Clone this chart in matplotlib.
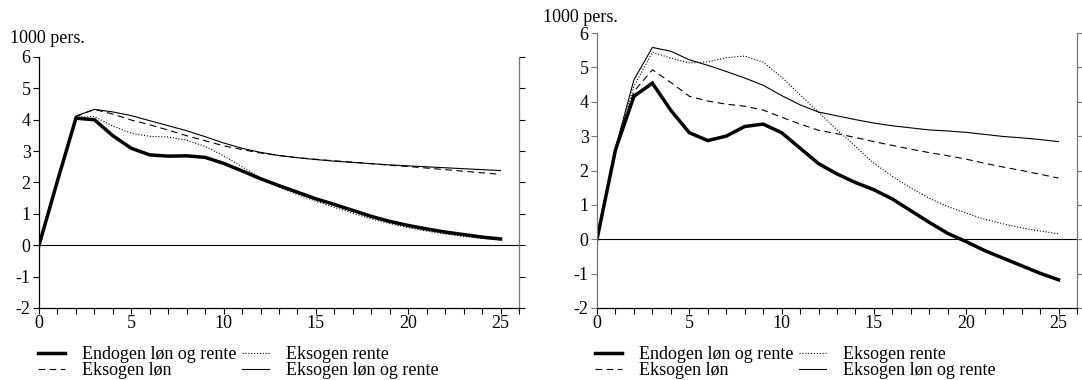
import matplotlib
matplotlib.use("Agg")
import matplotlib.pyplot as plt
from matplotlib.ticker import MultipleLocator

plt.rcParams['font.family'] = ['Liberation Serif', 'DejaVu Serif']
plt.rcParams['font.size'] = 13
plt.rcParams['axes.unicode_minus'] = False

years = list(range(26))

# Venstre panel
left_endogen = [0, 2.05, 4.05, 4.0, 3.49, 3.09, 2.88, 2.84, 2.85, 2.80, 2.61, 2.37, 2.12,
                1.9, 1.69, 1.48, 1.30, 1.11, 0.92, 0.76, 0.63, 0.52, 0.42, 0.34, 0.26, 0.2]
left_rente = [0, 2.05, 4.08, 4.1, 3.8, 3.57, 3.47, 3.45, 3.35, 3.15, 2.85, 2.5, 2.15,
              1.85, 1.62, 1.40, 1.21, 1.02, 0.84, 0.69, 0.56, 0.45, 0.36, 0.28, 0.22, 0.17]
left_loen = [0, 2.05, 4.1, 4.33, 4.18, 3.99, 3.84, 3.67, 3.49, 3.33, 3.17, 3.05, 2.94,
             2.86, 2.79, 2.74, 2.69, 2.65, 2.60, 2.55, 2.51, 2.46, 2.41, 2.36, 2.31, 2.26]
left_begge = [0, 2.05, 4.12, 4.33, 4.25, 4.13, 3.97, 3.81, 3.65, 3.46, 3.26, 3.09, 2.96,
              2.86, 2.79, 2.73, 2.68, 2.64, 2.60, 2.56, 2.53, 2.50, 2.47, 2.44, 2.41, 2.38]

# Høyre panel
right_endogen = [0, 2.6, 4.16, 4.54, 3.75, 3.1, 2.87, 3.0, 3.28, 3.35, 3.1, 2.65, 2.2,
                 1.9, 1.65, 1.44, 1.17, 0.83, 0.49, 0.17, -0.07, -0.33, -0.55, -0.77, -0.99, -1.18]
right_rente = [0, 2.65, 4.45, 5.44, 5.27, 5.13, 5.16, 5.28, 5.33, 5.15, 4.72, 4.2, 3.7,
               3.18, 2.7, 2.21, 1.83, 1.49, 1.19, 0.95, 0.76, 0.58, 0.45, 0.33, 0.24, 0.16]
right_loen = [0, 2.65, 4.3, 4.93, 4.56, 4.16, 4.02, 3.93, 3.87, 3.76, 3.55, 3.35, 3.17,
              3.07, 2.96, 2.84, 2.73, 2.62, 2.52, 2.43, 2.33, 2.21, 2.1, 2.0, 1.89, 1.78]
right_begge = [0, 2.65, 4.64, 5.58, 5.47, 5.22, 5.06, 4.88, 4.69, 4.48, 4.18, 3.91, 3.7,
               3.59, 3.48, 3.38, 3.3, 3.24, 3.18, 3.15, 3.11, 3.05, 2.99, 2.95, 2.9, 2.84]

labels = ['Endogen løn og rente', 'Eksogen løn', 'Eksogen rente', 'Eksogen løn og rente']

W, H = 1082, 380
fig = plt.figure(figsize=(W / 100, H / 100), dpi=100)

ax1 = fig.add_axes([39 / W, 1 - 308 / H, 480 / W, 251 / H])
ax2 = fig.add_axes([597 / W, 1 - 308 / H, 480 / W, 275 / H])

GRAY = '#777777'


def draw_panel(ax, endogen, rente, loen, begge, left_color):
    h1, = ax.plot(years, endogen, color='black', lw=2.5, solid_joinstyle='miter')
    h3, = ax.plot(years, rente, color='black', lw=0.8, linestyle=(0, (1, 1.6)))
    h2, = ax.plot(years, loen, color='black', lw=0.8, linestyle=(0, (6, 4)))
    h4, = ax.plot(years, begge, color='black', lw=0.8)
    ax.axhline(0, color='black', lw=0.8)

    ax.set_xlim(0, 26)
    ax.set_ylim(-2, 6)
    ax.xaxis.set_major_locator(MultipleLocator(5))
    ax.xaxis.set_minor_locator(MultipleLocator(1))
    ax.yaxis.set_major_locator(MultipleLocator(1))

    ax.spines['top'].set_visible(False)
    ax.spines['left'].set_color(left_color)
    ax.spines['right'].set_color(GRAY)
    ax.spines['bottom'].set_color('black')
    for s in ax.spines.values():
        s.set_linewidth(0.9)

    ax.tick_params(axis='x', which='both', direction='out', length=4, width=0.8,
                   pad=1, labelsize=13)
    ax.tick_params(axis='y', which='both', direction='out', length=4, width=0.8,
                   pad=2, labelsize=13, right=True, labelright=False, color=left_color)
    for t in ax.yaxis.get_ticklines()[1::2]:
        t.set_color(GRAY)
    return [h1, h2, h3, h4]


handles1 = draw_panel(ax1, left_endogen, left_rente, left_loen, left_begge, 'black')
handles2 = draw_panel(ax2, right_endogen, right_rente, right_loen, right_begge, GRAY)

fig.text(10 / W, 1 - 43 / H, '1000 pers.', fontsize=13, va='baseline', ha='left')
fig.text(543 / W, 1 - 22 / H, '1000 pers.', fontsize=13, va='baseline', ha='left')

leg_kw = dict(ncol=2, frameon=False, fontsize=13, handlelength=1.5,
              handletextpad=0.95, columnspacing=0.3, labelspacing=-0.05,
              borderpad=0, borderaxespad=0, loc='upper left')
fig.legend(handles1, labels, bbox_to_anchor=(38 / W, 1 - 346 / H), **leg_kw)
fig.legend(handles2, labels, bbox_to_anchor=(595 / W, 1 - 346 / H), **leg_kw)

fig.savefig('out.png', dpi=100)
